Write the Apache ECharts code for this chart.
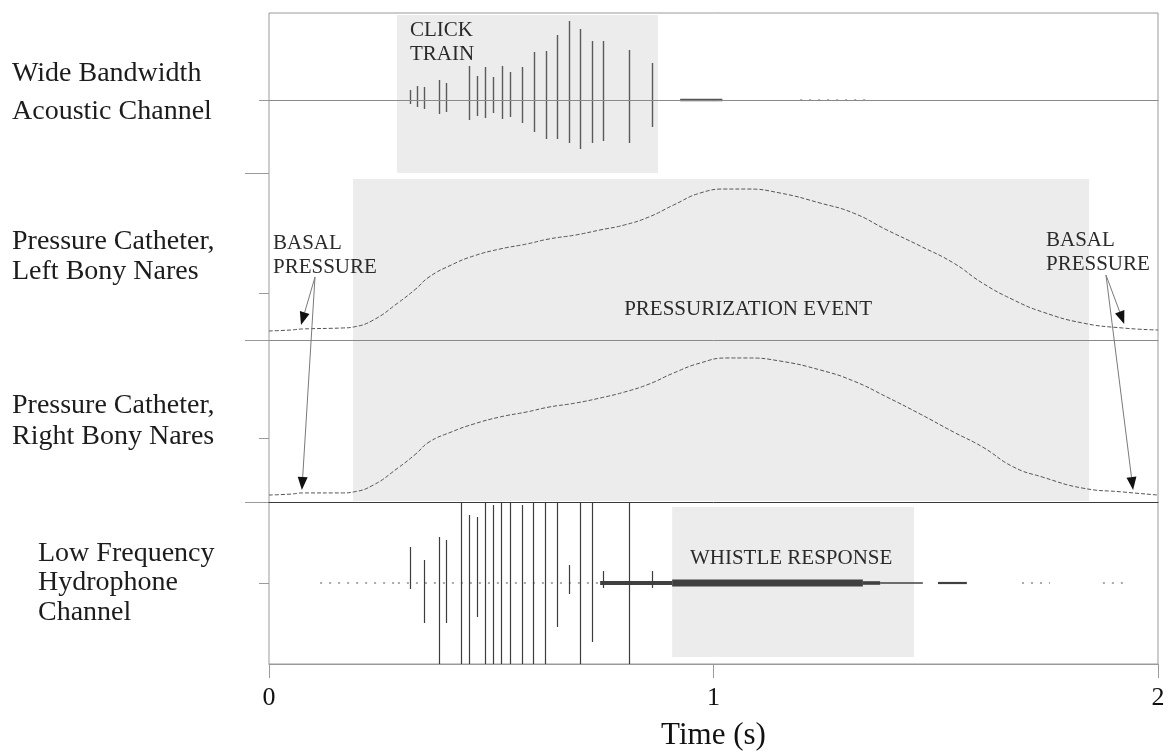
<!DOCTYPE html>
<html>
<head>
<meta charset="utf-8">
<script src="https://cdn.jsdelivr.net/npm/echarts@6/dist/echarts.min.js"></script>
<style>
  html, body { margin: 0; padding: 0; background: #ffffff; }
  #chart { width: 1169px; height: 755px; }
</style>
</head>
<body>
<div id="chart"></div>
<script>
// ---------- time axis (s) ----------
const timeRange = [0, 2];

// ---------- wide bandwidth acoustic channel ----------
// click times (s) with positive / negative peak amplitudes (relative units)
const clickTime = [0.317, 0.334, 0.349, 0.382, 0.398, 0.451, 0.469, 0.486, 0.503, 0.524, 0.543,
                   0.569, 0.597, 0.623, 0.649, 0.675, 0.700, 0.726, 0.752, 0.811, 0.862];
const clickUp   = [10, 14, 13, 20, 17, 34, 24, 33, 23, 34, 28, 33, 48, 49, 65, 79, 71, 59, 59, 50, 37];
const clickDown = [4, 7, 9, 14, 12, 20, 16, 18, 13, 19, 17, 23, 32, 39, 39, 43, 49, 43, 41, 43, 27];
// low-level noise after the train: [start s, end s, half amplitude]
const acousticNoise = [[0.925, 1.02, 1.2], [1.195, 1.35, 0.5]];

// ---------- pressure catheters (relative pressure, 0-100) ----------
const pressureTime = [0, 0.05, 0.075, 0.165, 0.19, 0.235, 0.29, 0.33, 0.36, 0.41, 0.46, 0.52,
                      0.58, 0.63, 0.69, 0.745, 0.80, 0.855, 0.91, 0.97, 1.03, 1.075, 1.15, 1.24,
                      1.315, 1.39, 1.465, 1.54, 1.605, 1.675, 1.74, 1.83, 1.92, 2.0];
const leftNaresPressure  = [5.4, 6.0, 6.6, 7.2, 7.8, 12.0, 22.2, 30.5, 37.7, 44.9, 50.3, 54.5,
                            57.5, 60.5, 62.9, 65.9, 68.9, 73.7, 80.8, 88.0, 90.4, 90.4, 88.0, 82.0,
                            76.0, 65.9, 56.3, 46.1, 34.1, 24.0, 16.8, 10.2, 7.2, 6.0];
const rightNaresPressure = [4.3, 4.9, 5.6, 5.6, 6.2, 10.5, 21.0, 29.6, 37.0, 43.2, 48.1, 52.5,
                            55.6, 58.6, 61.1, 64.2, 67.9, 72.8, 79.6, 85.8, 88.9, 88.9, 87.0, 81.5,
                            74.7, 64.8, 54.3, 43.2, 34.0, 21.6, 15.4, 8.6, 6.2, 4.3];

// ---------- low frequency hydrophone ----------
const pulseTime = [0.317, 0.349, 0.382, 0.398, 0.433, 0.450, 0.468, 0.486, 0.503, 0.522, 0.543,
                   0.569, 0.595, 0.621, 0.649, 0.674, 0.700, 0.727, 0.752, 0.811, 0.861];
const pulseUp   = [36, 23, 46, 43, 81, 68, 66, 81, 78, 81, 81, 78, 81, 81, 81, 18, 81, 81, 12, 81, 12];
const pulseDown = [6, 40, 81, 40, 81, 81, 34, 81, 81, 81, 81, 81, 81, 81, 44, 11, 81, 59, 5, 81, 5];
// background / whistle envelope: [start s, end s, half amplitude]
const hydroNoise = [[0.115, 0.29, 0.5], [0.29, 0.745, 0.6], [0.745, 0.907, 2.0], [0.907, 1.336, 3.5],
                    [1.336, 1.375, 1.8], [1.375, 1.471, 0.8], [1.505, 1.570, 1.1],
                    [1.694, 1.757, 0.4], [1.876, 1.930, 0.4]];

// ---------- annotated intervals (s) ----------
const clickTrainSpan = [0.288, 0.875];
const pressurizationSpan = [0.189, 1.845];
const whistleSpan = [0.907, 1.451];

// ---------- text ----------
const panelNames = [
  'Wide Bandwidth\nAcoustic Channel',
  'Pressure Catheter,\nLeft Bony Nares',
  'Pressure Catheter,\nRight Bony Nares',
  'Low Frequency\nHydrophone\nChannel'
];
const notesAcoustic = ['CLICK\nTRAIN'];
const notesLeft = ['PRESSURIZATION EVENT', 'BASAL\nPRESSURE', 'BASAL\nPRESSURE'];
const notesHydro = ['WHISTLE RESPONSE'];
// note anchors [time s, value] in each panel's units
const anchorsAcoustic = [[0.317, 58]];
const anchorsLeft = [[0.799, 18.0], [0.009, 50.9], [1.748, 52.7]];
const anchorsHydro = [[0.947, 25]];
// basal pressure arrows [from t, from v, to t, to v]
const arrowsLeft  = [[0.1035, 37.7, 0.072, 9.0], [1.883, 38.9, 1.924, 9.6]];
const arrowsRight = [[0.1035, 138.9, 0.074, 7.4], [1.883, 140.1, 1.944, 7.4]];

// ---------- drawing ----------
const FONT = "'Liberation Serif', 'Times New Roman', serif";
const INK = '#1c1c1c';
const SHADE = '#ececec';

const chart = echarts.init(document.getElementById('chart'), null, { renderer: 'canvas' });

const spanItem = (yTop, yBottom) => (params, api) => {
  const p0 = api.coord([api.value(0), yTop]);
  const p1 = api.coord([api.value(1), yBottom]);
  return { type: 'rect', shape: { x: p0[0], y: p0[1], width: p1[0] - p0[0], height: p1[1] - p0[1] },
           style: { fill: SHADE } };
};

const spikeItem = (color, width) => (params, api) => {
  const t = api.value(0);
  const a = api.coord([t, api.value(1)]);
  const b = api.coord([t, -api.value(2)]);
  const x = Math.round(a[0]) + 0.5;
  return { type: 'line', shape: { x1: x, y1: a[1], x2: x, y2: b[1] },
           style: { stroke: color, lineWidth: width } };
};

// noise envelope: faint levels are drawn as a broken trace, louder ones as a solid band
const envelopeItem = (color) => (params, api) => {
  const amp = api.value(2);
  const p0 = api.coord([api.value(0), amp]);
  const p1 = api.coord([api.value(1), -amp]);
  const cy = (p0[1] + p1[1]) / 2;
  if (amp < 0.7) {
    return { type: 'line', shape: { x1: p0[0], y1: cy, x2: p1[0], y2: cy },
             style: { stroke: '#555', lineWidth: 1, lineDash: [2, 7] } };
  }
  const h = Math.max(1, p1[1] - p0[1]);
  return { type: 'rect', shape: { x: p0[0], y: cy - h / 2, width: p1[0] - p0[0], height: h },
           style: { fill: color } };
};

const noteItem = (labels, size) => (params, api) => {
  const p = api.coord([api.value(0), api.value(1)]);
  return { type: 'text', x: p[0], y: p[1],
           style: { text: labels[params.dataIndex], fill: '#2a2a2a', fontFamily: FONT, fontSize: size,
                    lineHeight: 24, align: 'left', verticalAlign: 'middle' } };
};

const arrowItem = (params, api) => {
  const a = api.coord([api.value(0), api.value(1)]);
  const b = api.coord([api.value(2), api.value(3)]);
  const dx = b[0] - a[0], dy = b[1] - a[1];
  const len = Math.hypot(dx, dy), ux = dx / len, uy = dy / len;
  const hl = 13, hw = 5;
  const bx = b[0] - ux * hl, by = b[1] - uy * hl;
  return { type: 'group', children: [
    { type: 'line', shape: { x1: a[0], y1: a[1], x2: bx, y2: by }, style: { stroke: '#7a7a7a', lineWidth: 1 } },
    { type: 'polygon', shape: { points: [[b[0], b[1]], [bx - uy * hw, by + ux * hw], [bx + uy * hw, by - ux * hw]] },
      style: { fill: '#111' } }
  ] };
};

function panelY(gridIndex, min, max, ticks, name, gap, lineHeight, padTop) {
  return {
    gridIndex, type: 'value', position: 'left', min, max,
    axisLine: { show: false },
    axisTick: { show: true, customValues: ticks, length: 10, lineStyle: { color: '#9a9a9a' } },
    axisLabel: { show: false }, splitLine: { show: false },
    name, nameLocation: 'middle', nameRotate: 0, nameGap: gap,
    nameTextStyle: { align: 'left', verticalAlign: 'middle', fontSize: 28, lineHeight,
                     padding: [padTop, 0, 0, 0], fontFamily: FONT, color: INK }
  };
}
function stubY(gridIndex, min, max, ticks) {
  return {
    gridIndex, type: 'value', position: 'left', min, max,
    axisLine: { show: false },
    axisTick: { show: ticks.length > 0, customValues: ticks, length: 24, lineStyle: { color: '#9a9a9a' } },
    axisLabel: { show: false }, splitLine: { show: false }
  };
}
function panelX(gridIndex, lineColor, onZero) {
  return {
    gridIndex, type: 'value', min: timeRange[0], max: timeRange[1], interval: 1, z: 5,
    axisLine: { show: true, onZero, lineStyle: { color: lineColor } },
    axisTick: { show: false }, axisLabel: { show: false }, splitLine: { show: false }
  };
}

const timeAxis = {
  gridIndex: 4, type: 'value', min: timeRange[0], max: timeRange[1], interval: 1, z: 5,
  axisLine: { show: true, onZero: false, lineStyle: { color: '#9a9a9a' } },
  axisTick: { show: true, length: 14, lineStyle: { color: '#9a9a9a' } },
  axisLabel: { show: true, fontSize: 26, fontFamily: FONT, color: '#111', margin: 21 },
  splitLine: { show: false },
  name: 'Time (s)', nameLocation: 'middle', nameGap: 56,
  nameTextStyle: { fontSize: 31, fontFamily: FONT, color: '#111' }
};

const custom = (x, y, data, renderItem, z) => ({
  type: 'custom', xAxisIndex: x, yAxisIndex: y, data, renderItem, z: z, silent: true, clip: false
});

const option = {
  animation: false,
  backgroundColor: '#ffffff',
  grid: [
    { left: 269, top: 13, width: 889, height: 651, show: true, borderColor: '#9a9a9a', borderWidth: 1,
      backgroundColor: 'transparent' },
    { left: 269, top: 13, width: 889, height: 160 },
    { left: 269, top: 173, width: 889, height: 167 },
    { left: 269, top: 340, width: 889, height: 162 },
    { left: 269, top: 502, width: 889, height: 162 }
  ],
  xAxis: [
    { gridIndex: 0, type: 'value', min: 0, max: 1, show: false },
    panelX(1, '#8a8a8a', true),
    panelX(2, '#8a8a8a', false),
    panelX(3, '#3a3a3a', false),
    timeAxis
  ],
  yAxis: [
    { gridIndex: 0, type: 'value', min: 0, max: 1, show: false },
    panelY(1, -73, 87, [0], panelNames[0], 257, 38, 0),
    stubY(1, -73, 87, [-73]),
    panelY(2, 0, 100, [28.1], panelNames[1], 257, 30, 7),
    stubY(2, 0, 100, [0]),
    panelY(3, 0, 100, [39.5], panelNames[2], 257, 31, 10),
    stubY(3, 0, 100, [0]),
    panelY(4, -81, 81, [0], panelNames[3], 231, 29.5, 0),
    stubY(4, -81, 81, [])
  ],
  series: [
    // shaded intervals
    custom(1, 1, [clickTrainSpan], spanItem(85, -73), 1),
    custom(2, 3, [pressurizationSpan], spanItem(96.4, 0), 1),
    custom(3, 5, [pressurizationSpan], spanItem(100, 0.6), 1),
    custom(4, 7, [whistleSpan], spanItem(76, -74), 1),

    // acoustic channel
    custom(1, 1, acousticNoise, envelopeItem('#555'), 3),
    custom(1, 1, clickTime.map((t, i) => [t, clickUp[i], clickDown[i]]), spikeItem('#5a5a5a', 1.4), 3),
    custom(1, 1, anchorsAcoustic, noteItem(notesAcoustic, 21), 4),

    // pressure catheters
    {
      type: 'line', xAxisIndex: 2, yAxisIndex: 3, z: 3, silent: true, showSymbol: false,
      smooth: 0.5,
      data: pressureTime.map((t, i) => [t, leftNaresPressure[i]]),
      lineStyle: { color: '#555', width: 1, type: [4, 2] }
    },
    {
      type: 'line', xAxisIndex: 3, yAxisIndex: 5, z: 3, silent: true, showSymbol: false,
      smooth: 0.5,
      data: pressureTime.map((t, i) => [t, rightNaresPressure[i]]),
      lineStyle: { color: '#555', width: 1, type: [4, 2] }
    },
    custom(2, 3, anchorsLeft, noteItem(notesLeft, 21), 4),
    custom(2, 3, arrowsLeft, arrowItem, 6),
    custom(3, 5, arrowsRight, arrowItem, 6),

    // hydrophone
    custom(4, 7, hydroNoise, envelopeItem('#404040'), 3),
    custom(4, 7, pulseTime.map((t, i) => [t, pulseUp[i], pulseDown[i]]), spikeItem('#3c3c3c', 1.2), 3),
    custom(4, 7, anchorsHydro, noteItem(notesHydro, 21), 4)
  ]
};

chart.setOption(option);
</script>
</body>
</html>
